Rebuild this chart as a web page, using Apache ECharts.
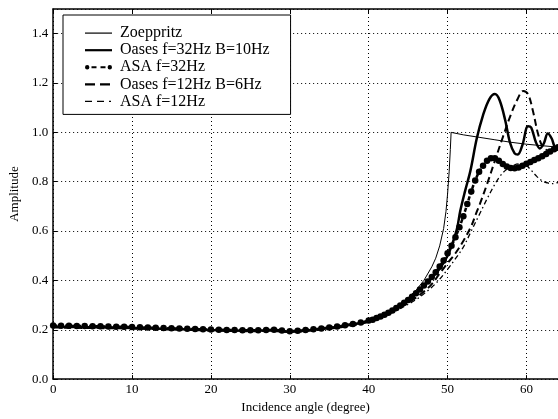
<!DOCTYPE html>
<html><head><meta charset="utf-8">
<script src="https://cdn.jsdelivr.net/npm/echarts@6/dist/echarts.min.js"></script>
<style>html,body{margin:0;padding:0;background:#fff}#c{width:558px;height:419px}</style>
</head><body><div id="c"></div>
<script>
const seriesNames = ['Zoeppritz', 'Oases f=32Hz B=10Hz', 'ASA f=32Hz', 'Oases f=12Hz B=6Hz', 'ASA f=12Hz'];
const xTicks = [0, 10, 20, 30, 40, 50, 60];
const yTicks = [0.0, 0.2, 0.4, 0.6, 0.8, 1.0, 1.2, 1.4];

const zoeppX = [0,2,4,6,8,10,12,14,16,18,20,22,24,26,28,29,30,31,32,34,36,38,40,41,42,43,44,45,46,47,48,48.5,49,49.5,49.8,50,50.2,50.35,50.45,52,54,56,58,60,62,64];
const zoeppY = [0.213,0.212,0.211,0.210,0.209,0.208,0.206,0.204,0.202,0.200,0.199,0.197,0.196,0.196,0.197,0.195,0.192,0.195,0.198,0.204,0.212,0.222,0.236,0.25,0.265,0.283,0.305,0.33,0.36,0.40,0.455,0.49,0.54,0.61,0.68,0.75,0.84,0.93,1.0,0.99,0.98,0.97,0.96,0.952,0.946,0.94];

const oases32X = [0,5,10,15,20,25,28,30,32,35,38,40,42,44,45,46,47,48,49,50,50.6,51.2,51.6,52.2,52.9,53.7,54.5,55.3,56,56.6,57.3,57.9,58.5,58.9,59.5,60.2,60.6,61.2,61.7,62.2,62.7,63.2,63.6,64];
const oases32Y = [0.212,0.21,0.207,0.203,0.199,0.196,0.197,0.192,0.197,0.207,0.222,0.236,0.262,0.297,0.32,0.347,0.378,0.41,0.447,0.5,0.548,0.61,0.68,0.76,0.845,0.975,1.07,1.135,1.155,1.13,1.05,0.96,0.915,0.91,0.95,1.025,1.02,0.96,0.935,0.955,0.995,0.975,0.94,0.935];

const asa32X = [0,1,2,3,4,5,6,7,8,9,10,11,12,13,14,15,16,17,18,19,20,21,22,23,24,25,26,27,28,29,30,31,32,33,34,35,36,37,38,39,40,40.5,41,41.5,42,42.5,43,43.5,44,44.5,45,45.5,46,46.5,47,47.5,48,48.5,49,49.5,50,50.5,51,51.5,52,52.5,53,53.5,54,54.5,55,55.5,56,56.5,57,57.5,58,58.5,59,59.5,60,60.5,61,61.5,62,62.5,63,63.5,64];
const asa32Y = [0.217,0.216,0.216,0.215,0.215,0.214,0.214,0.213,0.212,0.212,0.211,0.21,0.209,0.208,0.207,0.206,0.205,0.204,0.203,0.202,0.201,0.2,0.199,0.199,0.198,0.198,0.198,0.199,0.2,0.197,0.194,0.196,0.199,0.202,0.205,0.209,0.213,0.218,0.223,0.229,0.237,0.241,0.248,0.254,0.261,0.269,0.278,0.288,0.298,0.309,0.321,0.334,0.348,0.363,0.379,0.396,0.414,0.433,0.456,0.481,0.51,0.54,0.575,0.615,0.66,0.71,0.76,0.805,0.84,0.865,0.885,0.895,0.895,0.885,0.872,0.862,0.856,0.855,0.858,0.865,0.873,0.88,0.888,0.895,0.903,0.912,0.922,0.932,0.94];

const oases12X = [0,5,10,15,20,25,28,30,32,35,38,40,42,44,46,47,48,49,50,51,52,53,53.6,54.1,55,56,57,58,58.8,59.6,60.2,60.8,61.5,62.1,63,64];
const oases12Y = [0.209,0.207,0.205,0.201,0.197,0.194,0.195,0.19,0.195,0.204,0.218,0.232,0.257,0.29,0.33,0.355,0.385,0.428,0.47,0.51,0.56,0.62,0.67,0.71,0.79,0.885,0.98,1.07,1.13,1.168,1.155,1.09,0.99,0.94,0.925,0.93];

const asa12X = [0,5,10,15,20,25,28,30,32,35,38,40,42,44,46,47,48,49,50,51,52,53,54,55,56,56.6,57.3,58,59,59.8,60.5,61.2,62,62.7,63.3,64];
const asa12Y = [0.214,0.212,0.208,0.204,0.2,0.197,0.198,0.193,0.197,0.206,0.22,0.233,0.256,0.286,0.322,0.346,0.372,0.405,0.445,0.488,0.535,0.6,0.665,0.73,0.79,0.82,0.845,0.86,0.872,0.87,0.85,0.825,0.803,0.795,0.792,0.797];

const pairs = (xs, ys) => xs.map((x, i) => [x, ys[i]]);
const font = 'Liberation Serif';
// legend glyphs drawn in a 27x14 box (first two moves fix the bounds)
const box = 'M0,0M27,14';
const legendIcons = [
  'path://' + box + 'M0,6.5h27v1.2h-27z',
  'path://' + box + 'M0,6h27v2.2h-27z',
  'path://' + box + 'M0,7a2.2,2.2 0 1,0 4.4,0a2.2,2.2 0 1,0 -4.4,0zM22.6,7a2.2,2.2 0 1,0 4.4,0a2.2,2.2 0 1,0 -4.4,0zM6.5,6h5v2h-5zM15.5,6h5v2h-5z',
  'path://' + box + 'M0,6h10v2.2h-10zM15,6h10v2.2h-10z',
  'path://' + box + 'M0,6.4h7v1.2h-7zM12,6.4h7v1.2h-7zM24,6.4h2v1.2h-2z'
];

const chart = echarts.init(document.getElementById('c'), null, {renderer: 'canvas'});
chart.setOption({
  animation: false,
  backgroundColor: '#fff',
  grid: {left: 53, right: 0, top: 9, bottom: 35, containLabel: false},
  legend: {
    orient: 'vertical', left: 63, top: 15,
    padding: [10, 21, 5, 22],
    itemWidth: 27, itemHeight: 14, itemGap: 1.1,
    borderColor: '#000', borderWidth: 1, backgroundColor: '#fff',
    textStyle: {fontFamily: font, fontSize: 16, color: '#000', padding: [0, 0, 0, 3]},
    data: seriesNames.map((n, i) => ({name: n, icon: legendIcons[i], itemStyle: {color: '#000', borderWidth: 0}}))
  },
  xAxis: [{
    type: 'value', min: 0, max: 64, interval: 10,
    name: 'Incidence angle (degree)', nameLocation: 'middle', nameGap: 16,
    nameTextStyle: {fontFamily: font, fontSize: 13, color: '#000'},
    axisLine: {lineStyle: {color: '#000', width: 1.5}},
    axisTick: {inside: true, length: 4, lineStyle: {color: '#000'}},
    axisLabel: {fontFamily: font, fontSize: 13, color: '#000', margin: 4, showMaxLabel: false,
      formatter: v => xTicks.includes(v) ? String(v) : ''},
    splitLine: {show: true, lineStyle: {color: '#000', type: [1, 3], width: 1}}
  }, {
    type: 'value', position: 'top', min: 0, max: 64, interval: 10,
    axisLine: {show: true, lineStyle: {color: '#000', width: 1.5}},
    axisTick: {show: true, inside: true, length: 4, lineStyle: {color: '#000'}},
    axisLabel: {show: false}, splitLine: {show: false}
  }],
  yAxis: {
    type: 'value', min: 0, max: 1.5, interval: 0.2,
    name: 'Amplitude', nameLocation: 'middle', nameGap: 28,
    nameTextStyle: {fontFamily: font, fontSize: 13, color: '#000'},
    axisLine: {show: true, lineStyle: {color: '#000', width: 1.5}},
    axisTick: {show: true, inside: true, length: 4, lineStyle: {color: '#000'}},
    axisLabel: {fontFamily: font, fontSize: 13, color: '#000', margin: 5, showMaxLabel: false,
      formatter: v => yTicks.some(t => Math.abs(t - v) < 1e-9) ? v.toFixed(1) : ''},
    splitLine: {show: true, lineStyle: {color: '#000', type: [1, 3], width: 1}}
  },
  series: [
    {name: seriesNames[0], type: 'line', data: pairs(zoeppX, zoeppY), showSymbol: false, symbol: 'none',
      lineStyle: {color: '#000', width: 1}, itemStyle: {color: '#000'}},
    {name: seriesNames[1], type: 'line', data: pairs(oases32X, oases32Y), smooth: 0.35, showSymbol: false, symbol: 'none',
      lineStyle: {color: '#000', width: 2.5}, itemStyle: {color: '#000'}},
    {name: seriesNames[2], type: 'line', data: pairs(asa32X, asa32Y), smooth: 0.3, symbol: 'circle', symbolSize: 6.5, showAllSymbol: true,
      lineStyle: {color: '#000', width: 2.5, type: [4, 2]}, itemStyle: {color: '#000'}},
    {name: seriesNames[3], type: 'line', data: pairs(oases12X, oases12Y), smooth: 0.35, showSymbol: false, symbol: 'none',
      lineStyle: {color: '#000', width: 2, type: [7, 4]}, itemStyle: {color: '#000'}},
    {name: seriesNames[4], type: 'line', data: pairs(asa12X, asa12Y), smooth: 0.35, showSymbol: false, symbol: 'none',
      lineStyle: {color: '#000', width: 1.3, type: [5, 3, 1.5, 3]}, itemStyle: {color: '#000'}}
  ]
});
</script></body></html>
